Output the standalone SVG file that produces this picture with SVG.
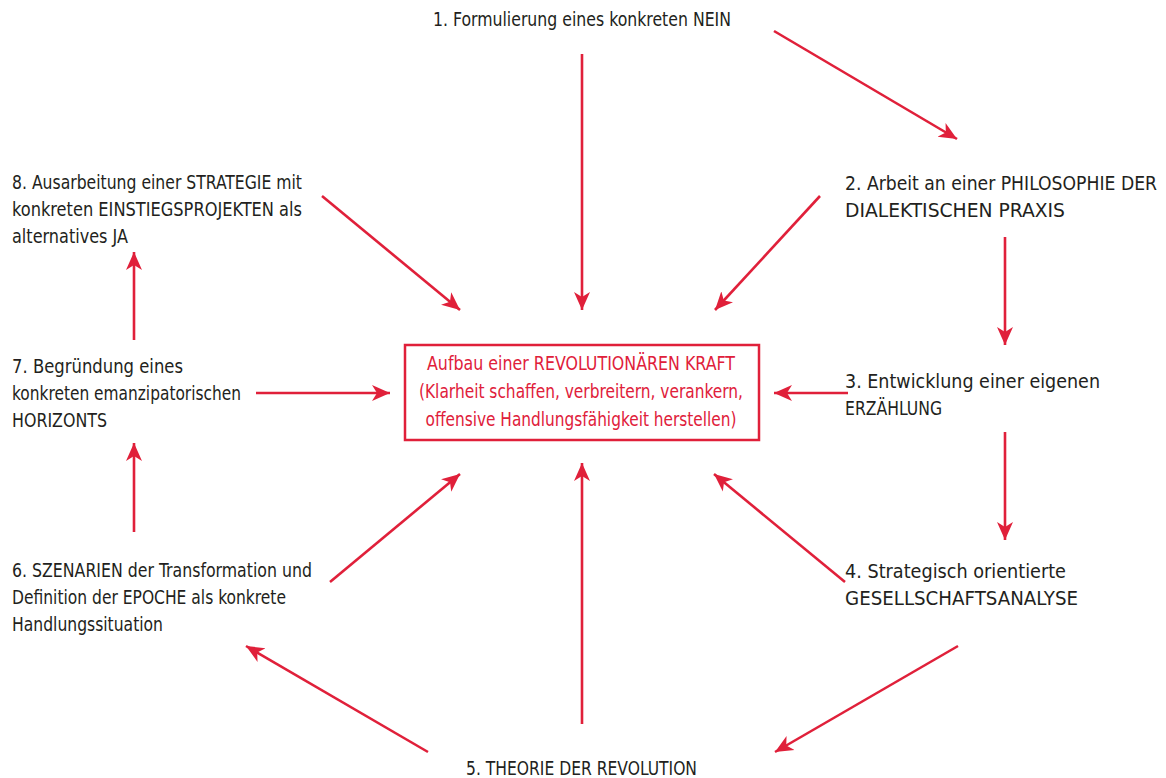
<svg xmlns="http://www.w3.org/2000/svg" width="1166" height="778" viewBox="0 0 1166 778">
<defs>
<style>
.t{font-family:"DejaVu Sans Condensed","Liberation Sans",sans-serif;font-stretch:condensed;font-size:20px;fill:#231f20}
.c{font-family:"DejaVu Sans Condensed","Liberation Sans",sans-serif;font-stretch:condensed;font-size:20px;fill:#e0203a;text-anchor:middle}
.a{stroke:#e0203a;stroke-width:2.6;fill:none;marker-end:url(#ah)}
</style>
<marker id="ah" markerUnits="userSpaceOnUse" markerWidth="20" markerHeight="18" refX="18" refY="8" orient="auto" viewBox="0 0 20 16">
<path d="M0,0 L18,8 L0,16 L5,8 Z" fill="#e0203a"/>
</marker>
</defs>
<rect width="1166" height="778" fill="#fff"/>
<g id="center">
<rect x="405" y="345" width="354" height="95" fill="none" stroke="#e0203a" stroke-width="2.5"/>
<text class="c" x="581" y="370" textLength="308" lengthAdjust="spacingAndGlyphs">Aufbau einer REVOLUTIONÄREN KRAFT</text>
<text class="c" x="581" y="398" textLength="324" lengthAdjust="spacingAndGlyphs">(Klarheit schaffen, verbreitern, verankern,</text>
<text class="c" x="581" y="426" textLength="311" lengthAdjust="spacingAndGlyphs">offensive Handlungsfähigkeit herstellen)</text>
</g>
<g id="n1"><text class="t" x="433" y="26" textLength="298" lengthAdjust="spacingAndGlyphs">1. Formulierung eines konkreten NEIN</text></g>
<g id="n2"><text class="t" x="845" y="190" textLength="312" lengthAdjust="spacingAndGlyphs">2. Arbeit an einer PHILOSOPHIE DER</text><text class="t" x="845" y="217" textLength="220" lengthAdjust="spacingAndGlyphs">DIALEKTISCHEN PRAXIS</text></g>
<g id="n3"><text class="t" x="845" y="388" textLength="255" lengthAdjust="spacingAndGlyphs">3. Entwicklung einer eigenen</text><text class="t" x="845" y="415" textLength="97" lengthAdjust="spacingAndGlyphs">ERZÄHLUNG</text></g>
<g id="n4"><text class="t" x="845" y="578" textLength="221" lengthAdjust="spacingAndGlyphs">4. Strategisch orientierte</text><text class="t" x="845" y="605" textLength="233" lengthAdjust="spacingAndGlyphs">GESELLSCHAFTSANALYSE</text></g>
<g id="n5"><text class="t" x="466" y="775" textLength="231" lengthAdjust="spacingAndGlyphs">5. THEORIE DER REVOLUTION</text></g>
<g id="n6"><text class="t" x="12" y="577" textLength="300" lengthAdjust="spacingAndGlyphs">6. SZENARIEN der Transformation und</text><text class="t" x="12" y="604" textLength="274" lengthAdjust="spacingAndGlyphs">Definition der EPOCHE als konkrete</text><text class="t" x="12" y="631" textLength="151" lengthAdjust="spacingAndGlyphs">Handlungssituation</text></g>
<g id="n7"><text class="t" x="12" y="373" textLength="171" lengthAdjust="spacingAndGlyphs">7. Begründung eines</text><text class="t" x="12" y="400" textLength="229" lengthAdjust="spacingAndGlyphs">konkreten emanzipatorischen</text><text class="t" x="12" y="427" textLength="95" lengthAdjust="spacingAndGlyphs">HORIZONTS</text></g>
<g id="n8"><text class="t" x="12" y="189" textLength="290" lengthAdjust="spacingAndGlyphs">8. Ausarbeitung einer STRATEGIE mit</text><text class="t" x="12" y="216" textLength="290" lengthAdjust="spacingAndGlyphs">konkreten EINSTIEGSPROJEKTEN als</text><text class="t" x="12" y="243" textLength="116" lengthAdjust="spacingAndGlyphs">alternatives JA</text></g>
<g id="connectors">
<line class="a" x1="582" y1="54" x2="582" y2="310"/>
<line class="a" x1="774" y1="31" x2="957" y2="139"/>
<line class="a" x1="820" y1="196" x2="715" y2="310"/>
<line class="a" x1="1005" y1="237" x2="1005" y2="345"/>
<line class="a" x1="848" y1="393" x2="774" y2="393"/>
<line class="a" x1="1005" y1="432" x2="1005" y2="540"/>
<line class="a" x1="845" y1="582" x2="714" y2="474"/>
<line class="a" x1="958" y1="646" x2="775" y2="752"/>
<line class="a" x1="582" y1="724" x2="582" y2="463"/>
<line class="a" x1="428" y1="752" x2="246" y2="646"/>
<line class="a" x1="330" y1="582" x2="460" y2="474"/>
<line class="a" x1="134" y1="532" x2="134" y2="443"/>
<line class="a" x1="256" y1="393" x2="390" y2="393"/>
<line class="a" x1="134" y1="340" x2="134" y2="252"/>
<line class="a" x1="322" y1="196" x2="460" y2="310"/>
</g>
</svg>
